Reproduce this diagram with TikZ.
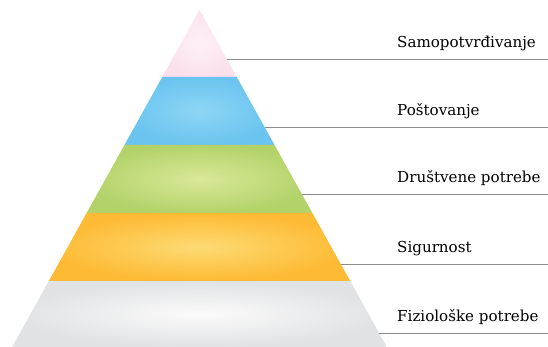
\documentclass[tikz,border=0pt]{standalone}
\usepackage{fontspec}
\setmainfont{DejaVu Serif}
\usetikzlibrary{positioning}

\definecolor{pinkout}{HTML}{FBE0EC}
\definecolor{pinkin}{HTML}{FDF1F7}
\definecolor{blueout}{HTML}{6AC4EF}
\definecolor{bluein}{HTML}{8ED6F6}
\definecolor{greenout}{HTML}{B3D36A}
\definecolor{greenin}{HTML}{D9E897}
\definecolor{yellowout}{HTML}{FDBA34}
\definecolor{yellowin}{HTML}{FDDB74}
\definecolor{greyout}{HTML}{E1E2E4}
\definecolor{greyin}{HTML}{FBFBFB}
\definecolor{rulegrey}{HTML}{8C8C8C}

\tikzset{
  guide/.style = {draw=rulegrey, line width=1pt},
  levellabel/.style = {anchor=base west, inner sep=0pt, font=\fontsize{15.1}{17}\selectfont}
}

\begin{document}
\begin{tikzpicture}[x=1pt, y=-1pt]
\useasboundingbox (0,0) rectangle (548,347);
%
\foreach \lo/\hi/\col in {10/77/pink, 77/145/blue, 145/213/green, 213/281/yellow, 281/347/grey}
{
  \pgfmathsetmacro\wlo{0.556*(\lo-10)}
  \pgfmathsetmacro\whi{0.556*(\hi-10)}
  \shade[inner color=\col in, outer color=\col out]
    (199.5-\wlo,\lo) -- (199.5+\wlo,\lo) -- (199.5+\whi,\hi) -- (199.5-\whi,\hi) -- cycle;
}
%
\foreach \y/\txt [count=\i from 1] in {60/Samopotvrđivanje, 128/Poštovanje, 195/Društvene potrebe, 264/Sigurnost, 333/Fiziološke potrebe}
{
  \pgfmathsetmacro\xe{199.5+0.556*(\y-10)}
  \coordinate (e\i) at (\xe,\y);
  \coordinate (r\i) at (548,\y);
  \node (l\i) [levellabel] at (397,\y-12) {\txt};
  \draw[guide] (e\i) -- (r\i);
}
\end{tikzpicture}
\end{document}
